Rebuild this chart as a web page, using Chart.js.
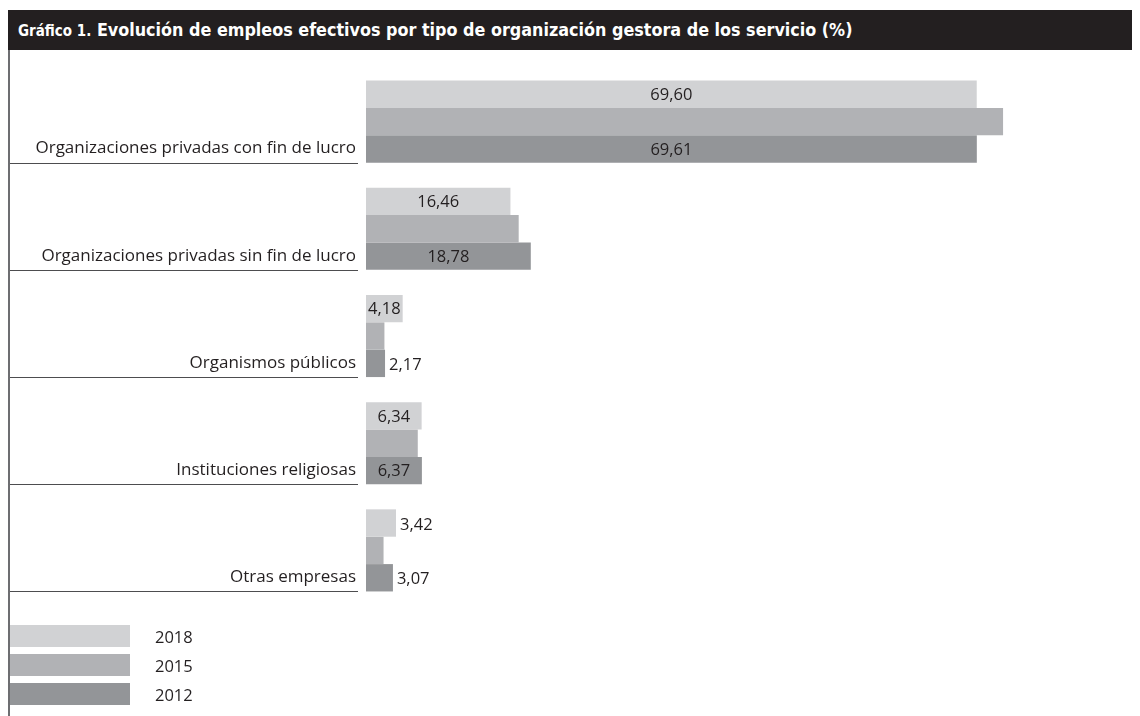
<!DOCTYPE html>
<html><head><meta charset="utf-8">
<script src="https://cdn.jsdelivr.net/npm/chart.js@4.4.1/dist/chart.umd.min.js"></script>
<style>
html,body{margin:0;padding:0;background:#fff;}
#wrap{position:relative;width:1140px;height:716px;overflow:hidden;background:#fff;}
#title{position:absolute;left:8px;top:10px;width:1124px;height:40px;background:#231f20;color:#fff;font-family:"Liberation Sans Narrow","DejaVu Sans Condensed",sans-serif;font-weight:bold;font-size:17.8px;line-height:40px;padding-left:10px;box-sizing:border-box;white-space:nowrap;}
#title .s{font-size:15px;}
#vline{position:absolute;left:8px;top:50px;width:2px;height:666px;background:#6d6e71;}
canvas{position:absolute;left:0;top:0;}
</style></head>
<body><div id="wrap">
<div id="title"><span class="s">Gráfico 1.</span> Evolución de empleos efectivos por tipo de organización gestora de los servicio (%)</div>
<div id="vline"></div>
<canvas id="c" width="1140" height="716"></canvas>
</div>
<script>
const categories = [
  'Organizaciones privadas con fin de lucro',
  'Organizaciones privadas sin fin de lucro',
  'Organismos públicos',
  'Instituciones religiosas',
  'Otras empresas'
];
const years = ['2018', '2015', '2012'];
const values2018 = [69.60, 16.46, 4.18, 6.34, 3.42];
const values2015 = [72.6, 17.4, 2.1, 5.9, 2.0];
const values2012 = [69.61, 18.78, 2.17, 6.37, 3.07];
const labelledYears = ['2018', '2012'];

const colors = ['#d1d2d4', '#b1b2b5', '#939598'];
const FONT = '"Open Sans", "Noto Sans", sans-serif';

const decor = {
  id: 'decor',
  afterDatasetsDraw(chart) {
    const ctx = chart.ctx;
    ctx.save();
    ctx.font = '16.5px ' + FONT;
    ctx.fillStyle = '#231f20';
    ctx.textBaseline = 'middle';
    chart.data.datasets.forEach((ds, di) => {
      if (!labelledYears.includes(ds.label)) return;
      const meta = chart.getDatasetMeta(di);
      meta.data.forEach((bar, i) => {
        const v = ds.data[i];
        const txt = v.toFixed(2).replace('.', ',');
        const w = ctx.measureText(txt).width;
        const bw = bar.x - bar.base;
        if (bw >= w - 1) {
          ctx.textAlign = 'center';
          ctx.fillText(txt, (bar.x + bar.base) / 2, bar.y + 1);
        } else {
          ctx.textAlign = 'left';
          ctx.fillText(txt, bar.x + 4, bar.y + 2);
        }
      });
    });
    // underlines under category labels
    const last = chart.getDatasetMeta(chart.data.datasets.length - 1);
    ctx.strokeStyle = '#4d4d4f';
    ctx.lineWidth = 1;
    last.data.forEach(bar => {
      const y = Math.round(bar.y + bar.height / 2) + 0.5;
      ctx.beginPath();
      ctx.moveTo(10, y);
      ctx.lineTo(358, y);
      ctx.stroke();
    });
    // legend
    chart.data.datasets.forEach((ds, i) => {
      const top = 625 + i * 29;
      ctx.fillStyle = ds.backgroundColor;
      ctx.fillRect(10, top, 120, 22);
      ctx.fillStyle = '#231f20';
      ctx.textAlign = 'left';
      ctx.fillText(ds.label, 155, top + 13);
    });
    ctx.restore();
  }
};

new Chart(document.getElementById('c'), {
  type: 'bar',
  data: {
    labels: categories,
    datasets: [
      { label: years[0], data: values2018, backgroundColor: colors[0] },
      { label: years[1], data: values2015, backgroundColor: colors[1] },
      { label: years[2], data: values2012, backgroundColor: colors[2] }
    ]
  },
  options: {
    indexAxis: 'y',
    responsive: false,
    animation: false,
    devicePixelRatio: 1,
    datasets: { bar: { barPercentage: 1, categoryPercentage: 0.766, borderWidth: 0 } },
    layout: { padding: { left: 0, right: 72, top: 68, bottom: 112 } },
    plugins: { legend: { display: false }, tooltip: { enabled: false }, title: { display: false } },
    scales: {
      x: { display: false, min: 0, max: 80 },
      y: {
        grid: { display: false, drawTicks: false },
        border: { display: false },
        ticks: { color: '#231f20', font: { family: FONT, size: 17 }, padding: 10, labelOffset: 27 },
        afterFit(scale) { scale.width = 366; }
      }
    }
  },
  plugins: [decor]
});
</script>
</body></html>
